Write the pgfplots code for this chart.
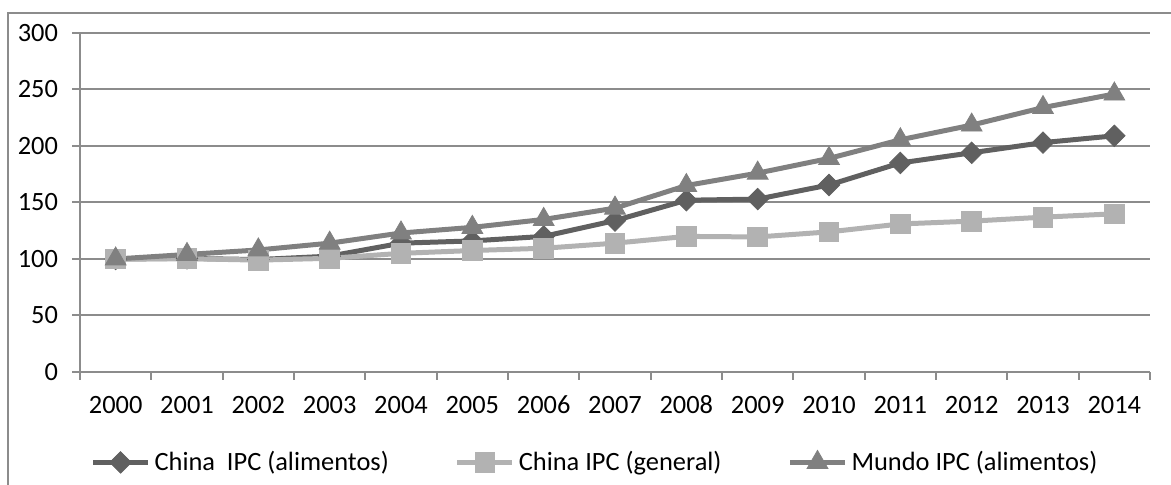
\documentclass[border=0pt]{standalone}
\usepackage{pgfplots}
\pgfplotsset{compat=1.18}
\usepackage{fontspec}
\setmainfont{Carlito}

\definecolor{seriesdark}{RGB}{96,96,96}
\definecolor{serieslight}{RGB}{178,178,178}
\definecolor{seriesmid}{RGB}{128,128,128}
\definecolor{gridgray}{RGB}{140,140,140}

\begin{document}
\begin{tikzpicture}[x=0.5pt,y=0.5pt]
\path[use as bounding box] (0,0) rectangle (1171,485);
% chart frame (top and left edges)
\draw[gridgray, line width=1pt] (8,0) -- (8,472) -- (1171,472);

\begin{axis}[
  at={(40pt,56.5pt)}, anchor=south west,
  scale only axis, width=535pt, height=169.5pt,
  xmin=-0.5, xmax=14.5, ymin=0, ymax=300,
  xtick={-0.5,0.5,1.5,2.5,3.5,4.5,5.5,6.5,7.5,8.5,9.5,10.5,11.5,12.5,13.5,14.5},
  x tick label as interval,
  xticklabels={2000,2001,2002,2003,2004,2005,2006,2007,2008,2009,2010,2011,2012,2013,2014},
  ytick={0,50,...,300},
  axis lines=left,
  axis line style={-, gridgray, line width=1pt},
  tick align=outside,
  major tick length=4pt,
  tick style={gridgray, line width=1pt},
  ymajorgrids,
  grid style={gridgray, line width=1pt},
  every tick label/.style={font=\fontsize{13.2}{15}\selectfont},
  /pgf/number format/assume math mode=true,
  xticklabel style={yshift=-6pt, text height=1.5ex, text depth=0pt},
  yticklabel style={xshift=-3.5pt},
  clip=false,
  legend columns=3,
  legend style={at={(0.0095,-0.2655)}, anchor=west, draw=none, fill=none,
    inner xsep=0pt, inner ysep=0pt,
    font=\fontsize{13.2}{15}\selectfont,
    nodes={inner xsep=2pt, inner ysep=0pt},
    /tikz/every even column/.append style={column sep=31pt}},
  legend cell align=left,
  legend image code/.code={\draw[mark repeat=2,mark phase=2,#1] plot coordinates {(0pt,0pt) (13.75pt,0pt) (27.5pt,0pt)};},
]
\addplot[seriesdark, line width=2.5pt, mark=square*, mark size=3.8pt,
  mark options={solid, rotate=45, line width=0.4pt, fill=seriesdark}]
  coordinates {(0,100) (1,100.5) (2,99.5) (3,102.5) (4,114) (5,116) (6,120)
    (7,134) (8,152) (9,153) (10,165.5) (11,185) (12,194) (13,203) (14,209)};
\addlegendentry{China~\ IPC (alimentos)}
\addplot[serieslight, line width=2.5pt, mark=square*, mark size=4.9pt,
  mark options={solid, line width=0.4pt, fill=serieslight}]
  coordinates {(0,100) (1,100.3) (2,99) (3,100.6) (4,105) (5,107.5) (6,109.5)
    (7,114) (8,120) (9,119.5) (10,124) (11,131) (12,133.5) (13,137) (14,140)};
\addlegendentry{China IPC (general)}
\addplot[seriesmid, line width=2.5pt, mark=triangle*, mark size=6pt,
  mark options={solid, line width=0.4pt, fill=seriesmid}]
  coordinates {(0,100) (1,104) (2,108) (3,114) (4,123) (5,128) (6,135)
    (7,145) (8,165) (9,176) (10,189) (11,205.5) (12,218.5) (13,234) (14,246)};
\addlegendentry{Mundo IPC (alimentos)}
\end{axis}
\end{tikzpicture}
\end{document}
